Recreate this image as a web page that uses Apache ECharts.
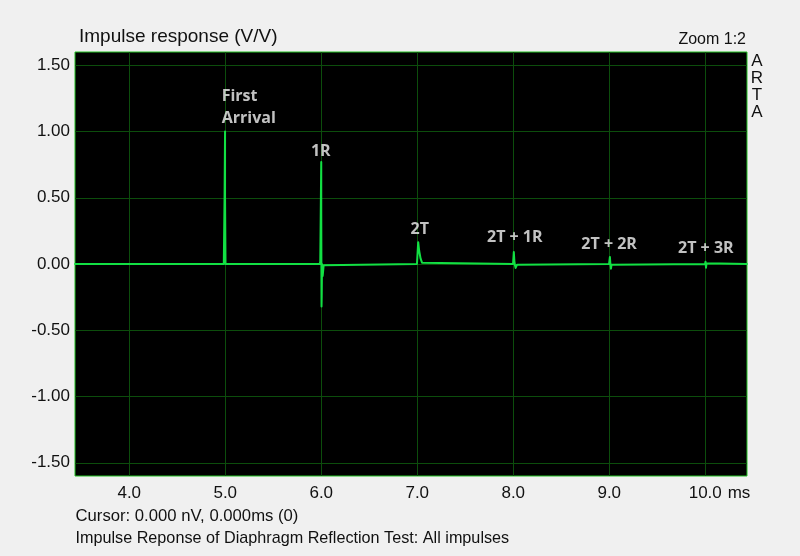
<!DOCTYPE html>
<html>
<head>
<meta charset="utf-8">
<script src="https://cdn.jsdelivr.net/npm/echarts@6/dist/echarts.min.js"></script>
<style>
  html, body { margin: 0; padding: 0; background: #f0f0f0; }
  #chart { width: 800px; height: 556px; }
</style>
</head>
<body>
<div id="chart"></div>
<script>
// ---- data (time in ms, response in V/V) ----
const timeMs = [
  3.435, 4.985, 4.993, 4.998, 4.998, 5.003,
  5.985, 5.99, 5.995, 6.0, 6.0, 6.003, 6.005, 6.008, 6.015, 6.025, 6.035,
  6.997, 7.01, 7.02, 7.035, 7.05, 7.06,
  7.998, 8.006, 8.012, 8.018, 8.025, 8.032, 8.04, 8.05,
  8.998, 9.007, 9.012, 9.018, 9.024, 9.032,
  9.998, 10.003, 10.008, 10.013, 10.018, 10.025,
  10.435
];
const voltage = [
  0, 0, 0.5, 1.0, 0.5, 0,
  0, 0.02, 0.4, 0.77, 0.4, -0.32, -0.24, 0, -0.09, -0.01, 0,
  0, 0.165, 0.1, 0.04, 0.01, 0,
  0, 0.09, 0.02, -0.01, -0.03, -0.015, -0.005, 0,
  0, 0.053, 0.0, -0.035, -0.005, 0,
  0, 0.017, -0.028, 0.005, 0, 0,
  0
];
// annotation labels: text and anchor in data units
const annoText = ['First\nArrival', '1R', '2T', '2T + 1R', '2T + 2R', '2T + 3R'];
const annoX = [4.963, 5.995, 7.027, 8.016, 8.999, 10.006];
const annoY = [1.185, 0.85, 0.262, 0.2, 0.144, 0.114];

const xTicks = [4, 5, 6, 7, 8, 9, 10];
const yTicks = [-1.5, -1.0, -0.5, 0, 0.5, 1.0, 1.5];
const xRange = [3.435, 10.435];
const yRange = [-1.6, 1.6];

const titleText = 'Impulse response (V/V)';
const zoomText = 'Zoom 1:2';
const brandText = 'A\nR\nT\nA';
const cursorText = 'Cursor: 0.000 nV, 0.000ms (0)';
const footerText = 'Impulse Reponse of Diaphragm Reflection Test: All impulses';

const FONT = '"Liberation Sans", Arial, sans-serif';
const GRID_GREEN = '#0c4d0c';

const chart = echarts.init(document.getElementById('chart'), null, { renderer: 'canvas' });

const lineData = timeMs.map((t, i) => [t, voltage[i]]);
const annoData = annoText.map((s, i) => ({
  value: [annoX[i], annoY[i]],
  label: { align: i === 0 ? 'left' : 'center' },
  name: s
}));

chart.setOption({
  animation: false,
  backgroundColor: '#f0f0f0',
  grid: {
    left: 75, right: 53, top: 52, bottom: 80,
    show: true, backgroundColor: '#000000',
    borderColor: '#22c022', borderWidth: 1
  },
  xAxis: {
    type: 'value',
    min: xRange[0], max: xRange[1],
    axisLine: { show: false, onZero: false },
    axisTick: { show: false, customValues: xTicks },
    axisLabel: {
      customValues: xTicks,
      margin: 9,
      fontFamily: FONT, fontSize: 17, color: '#111',
      formatter: v => v.toFixed(1)
    },
    splitLine: { show: true, lineStyle: { color: GRID_GREEN, width: 1 } },
    name: 'ms',
    nameLocation: 'end',
    nameGap: 0,
    nameTextStyle: {
      fontFamily: FONT, fontSize: 17, color: '#111',
      align: 'right', verticalAlign: 'top', padding: [9, 4, 0, 0]
    }
  },
  yAxis: {
    type: 'value',
    min: yRange[0], max: yRange[1],
    axisLine: { show: false, onZero: false },
    axisTick: { show: false, customValues: yTicks },
    axisLabel: {
      customValues: yTicks,
      margin: 5,
      fontFamily: FONT, fontSize: 17, color: '#111',
      formatter: v => v.toFixed(2)
    },
    splitLine: { show: true, lineStyle: { color: GRID_GREEN, width: 1 } }
  },
  series: [
    {
      type: 'line',
      data: lineData,
      smooth: false,
      showSymbol: false,
      symbol: 'none',
      lineStyle: { color: '#12e043', width: 2, join: 'round', cap: 'round' },
      z: 3
    },
    {
      type: 'scatter',
      data: annoData,
      symbolSize: 0,
      silent: true,
      label: {
        show: true,
        position: 'inside',
        formatter: p => p.name,
        fontFamily: '"Open Sans", sans-serif',
        fontWeight: 'bold',
        fontSize: 16,
        lineHeight: 22,
        color: '#f2f2f2'
      },
      z: 4
    }
  ],
  graphic: [
    { type: 'text', x: 79, y: 37, style: { text: titleText, font: '19px ' + FONT, fill: '#111', align: 'left', verticalAlign: 'middle' } },
    { type: 'text', x: 746, y: 39.5, style: { text: zoomText, font: '16px ' + FONT, fill: '#111', align: 'right', verticalAlign: 'middle' } },
    { type: 'text', x: 757, y: 87, style: { text: brandText, font: '17px ' + FONT, lineHeight: 17.2, fill: '#111', align: 'center', verticalAlign: 'middle' } },
    { type: 'text', x: 75.5, y: 516, style: { text: cursorText, font: '16.7px ' + FONT, fill: '#111', align: 'left', verticalAlign: 'middle' } },
    { type: 'text', x: 75.5, y: 538.5, style: { text: footerText, font: '16.2px ' + FONT, fill: '#111', align: 'left', verticalAlign: 'middle' } }
  ]
});
</script>
</body>
</html>
